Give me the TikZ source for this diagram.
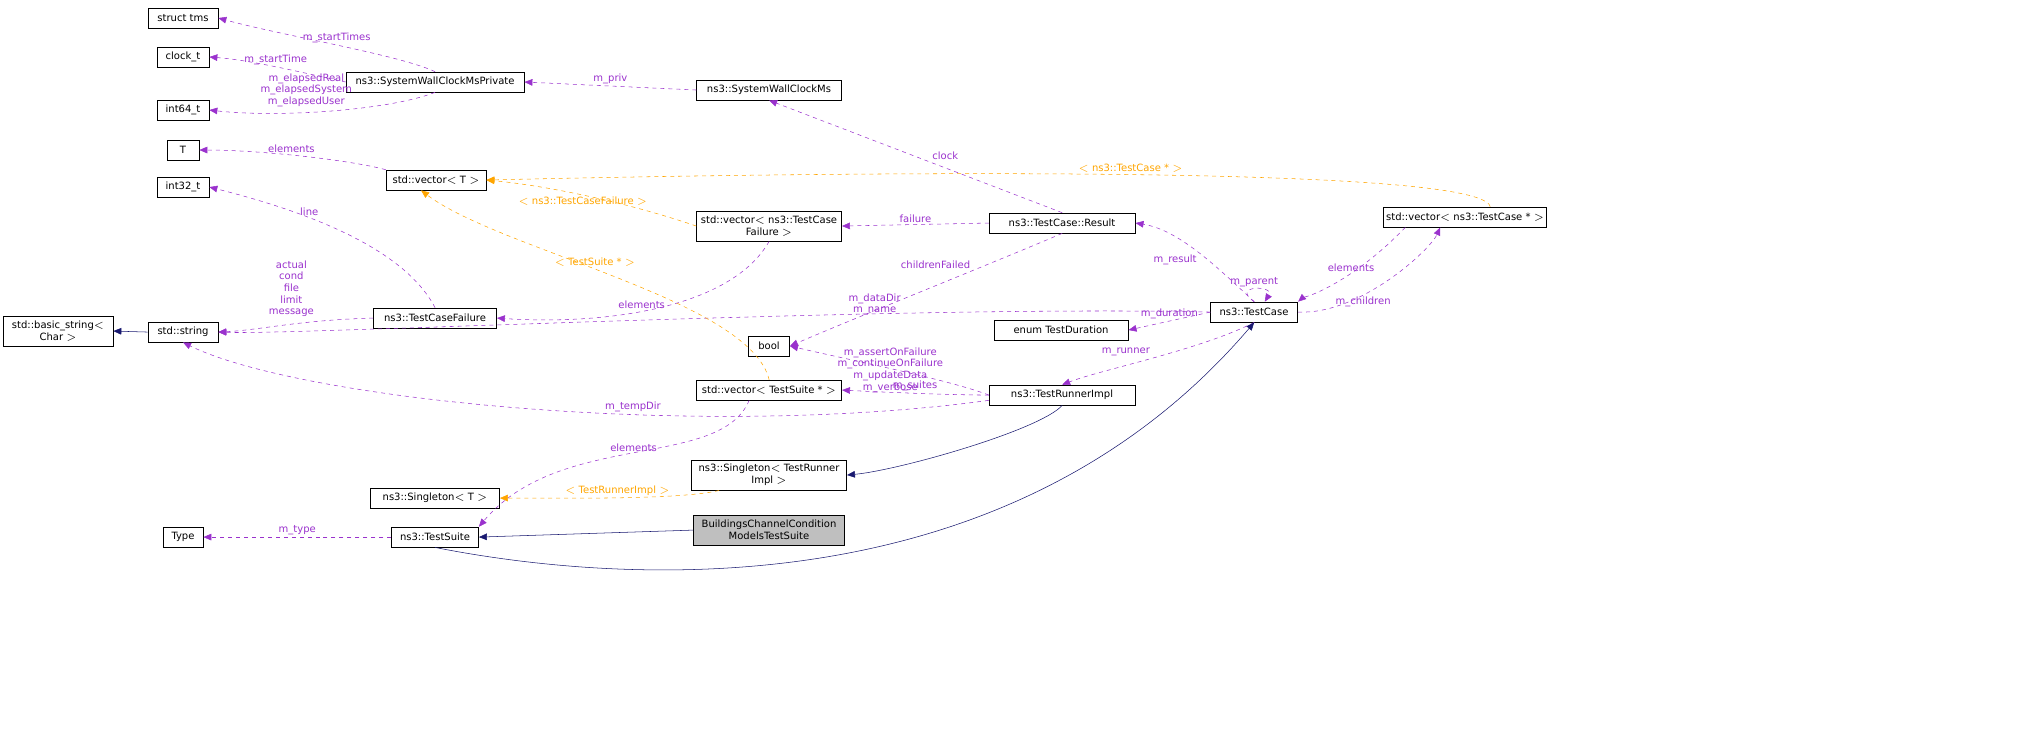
\documentclass[tikz,border=0pt]{standalone}
\usepackage{fontspec}
\setmainfont{DejaVu Sans}
\usetikzlibrary{arrows.meta}
\definecolor{mbr}{HTML}{9A32CD}
\definecolor{tpl}{HTML}{FFA500}
\definecolor{inh}{HTML}{191970}

\begin{document}
\begin{tikzpicture}[x=0.02cm, y=-0.02cm, scale=1.323, transform shape,
	cls/.style={draw, fill=white, font=\fontsize{5.7}{6.6}\selectfont, align=center, inner sep=0pt, minimum height=0.4cm},
	cls2/.style={cls, minimum height=0.6cm},
	lbl/.style={font=\fontsize{5.7}{6.6}\selectfont, align=center, inner sep=1pt},
	member/.style={draw=mbr, dashed, -{Triangle[length=6pt,width=5pt]}, mbr},
	templ/.style={draw=tpl, dashed, -{Triangle[length=6pt,width=5pt]}, tpl},
	base/.style={draw=inh, -{Triangle[length=6pt,width=5pt]}, inh}]
	\useasboundingbox (0,0) rectangle (2036,748);
	% classes
	\node[cls, minimum width=1.4cm] (tms) at (183,18) {struct tms};
	\node[cls, minimum width=1.04cm] (clk) at (183,57) {clock\_t};
	\node[cls, minimum width=1.04cm] (i64) at (183,110) {int64\_t};
	\node[cls, minimum width=3.56cm] (priv) at (435,82) {ns3::SystemWallClockMsPrivate};
	\node[cls, minimum width=2.9cm] (swc) at (769,90) {ns3::SystemWallClockMs};
	\node[cls, minimum width=0.64cm] (T) at (183,150) {T};
	\node[cls, minimum width=2cm] (vecT) at (436,180) {std::vector$<$ T $>$};
	\node[cls, minimum width=1.04cm] (i32) at (183,187) {int32\_t};
	\node[cls2, minimum width=2.9cm] (vecTCF) at (769,226) {std::vector$<$ ns3::TestCase\\Failure $>$};
	\node[cls, minimum width=2.92cm] (res) at (1062,223) {ns3::TestCase::Result};
	\node[cls, minimum width=3.26cm] (vecTC) at (1465,217) {std::vector$<$ ns3::TestCase * $>$};
	\node[cls, minimum width=2.46cm] (tcf) at (435,318) {ns3::TestCaseFailure};
	\node[cls2, minimum width=2.2cm] (bstr) at (58,331) {std::basic\_string$<$\\Char $>$};
	\node[cls, minimum width=1.4cm] (str) at (183,332) {std::string};
	\node[cls, minimum width=1.74cm] (tc) at (1254,312) {ns3::TestCase};
	\node[cls, minimum width=2.68cm] (dur) at (1061,330) {enum TestDuration};
	\node[cls, minimum width=0.82cm] (bool) at (769,346) {bool};
	\node[cls, minimum width=2.9cm] (vecTS) at (769,390) {std::vector$<$ TestSuite * $>$};
	\node[cls, minimum width=2.92cm] (tri) at (1062,395) {ns3::TestRunnerImpl};
	\node[cls2, minimum width=3.1cm] (sgl) at (769,475) {ns3::Singleton$<$ TestRunner\\Impl $>$};
	\node[cls, minimum width=2.58cm] (sglT) at (435,498) {ns3::Singleton$<$ T $>$};
	\node[cls, minimum width=0.8cm] (type) at (183,537) {Type};
	\node[cls, minimum width=1.74cm] (ts) at (435,537) {ns3::TestSuite};
	\node[cls2, minimum width=3.02cm, fill={rgb,255:red,191;green,191;blue,191}] (bcc) at (769,530) {BuildingsChannelCondition\\ModelsTestSuite};
	% members
	\draw[member] (priv.north) .. controls (400,55) and (280,35) .. (tms.east) node[lbl, pos=0.5, above] {m\_startTimes};
	\draw[member] (priv.west) .. controls (300,72) and (250,60) .. (clk.east) node[lbl, pos=0.5, above] {m\_startTime};
	\draw[member] (priv.south) .. controls (390,110) and (280,118) .. (i64.east) node[lbl, pos=0.6, above, yshift=2pt] {m\_elapsedReal\\m\_elapsedSystem\\m\_elapsedUser};
	\draw[member] (swc.west) -- (priv.east) node[lbl, midway, above] {m\_priv};
	\draw[member] (vecT.north west) .. controls (350,160) and (260,150) .. (T.east) node[lbl, pos=0.55, above] {elements};
	\draw[member] (tcf.north) .. controls (400,240) and (280,205) .. (i32.east) node[lbl, pos=0.6, above] {line};
	\draw[member] (tcf.west) .. controls (300,320) and (260,330) .. (str.east) node[lbl, pos=0.45, above, yshift=3pt] {actual\\cond\\file\\limit\\message};
	\draw[member] (vecTCF.south) .. controls (730,310) and (600,325) .. (tcf.east) node[lbl, pos=0.55, above] {elements};
	\draw[member] (res.west) -- (vecTCF.east) node[lbl, midway, above] {failure};
	\draw[member] (res.north) -- (swc.south) node[lbl, pos=0.45, above right] {clock};
	\draw[member] (res.south) .. controls (1000,260) and (850,320) .. (bool.east) node[lbl, pos=0.35, above left] {childrenFailed};
	\draw[member] (tc.north) .. controls (1220,270) and (1180,230) .. (res.east) node[lbl, pos=0.5, below left] {m\_result};
	\draw[member] (tc.north) .. controls (1230,285) and (1275,285) .. ([xshift=6pt]tc.north) node[lbl, pos=0.5, above] {m\_parent};
	\draw[member] (tc.west) .. controls (900,305) and (300,335) .. (str.east) node[lbl, pos=0.3, above, yshift=-2pt] {m\_dataDir\\m\_name};
	\draw[member] (tc.west) -- (dur.east) node[lbl, midway, above] {m\_duration};
	\draw[member] (tc.east) .. controls (1360,315) and (1430,250) .. ([xshift=-0.5cm]vecTC.south) node[lbl, pos=0.35, below] {m\_children};
	\draw[member] ([xshift=-1.2cm]vecTC.south) .. controls (1350,285) and (1300,300) .. (tc.north east) node[lbl, pos=0.35, above] {elements};
	\draw[member] (tc.south) .. controls (1200,350) and (1100,370) .. (tri.north) node[lbl, pos=0.5, above left] {m\_runner};
	\draw[member] (tri.west) .. controls (950,380) and (850,360) .. (bool.east) node[lbl, pos=0.5, xshift=-4pt] {m\_assertOnFailure\\m\_continueOnFailure\\m\_updateData\\m\_verbose};
	\draw[member] (tri.west) .. controls (950,395) and (880,392) .. (vecTS.east) node[lbl, pos=0.5, above] {m\_suites};
	\draw[member] ([yshift=-3pt]tri.west) .. controls (700,440) and (300,400) .. (str.south) node[lbl, pos=0.38, above] {m\_tempDir};
	\draw[member] ([xshift=-0.4cm]vecTS.south) .. controls (720,470) and (560,430) .. (ts.north east) node[lbl, pos=0.5, above] {elements};
	\draw[member] (ts.west) -- (type.east) node[lbl, midway, above] {m\_type};
	% templates
	\draw[templ] ([xshift=0.5cm]vecTC.north) .. controls (1480,160) and (700,175) .. (vecT.east) node[lbl, pos=0.45, above] {$<$ ns3::TestCase * $>$};
	\draw[templ] (vecTCF.west) .. controls (620,200) and (540,185) .. (vecT.east) node[lbl, pos=0.5, below] {$<$ ns3::TestCaseFailure $>$};
	\draw[templ] (vecTS.north) .. controls (750,300) and (500,250) .. ([xshift=-0.3cm]vecT.south) node[lbl, pos=0.55, above] {$<$ TestSuite * $>$};
	\draw[templ] ([xshift=-1cm]sgl.south) .. controls (680,500) and (560,498) .. (sglT.east) node[lbl, pos=0.5, above] {$<$ TestRunnerImpl $>$};
	% inheritance
	\draw[base] (str.west) -- (bstr.east);
	\draw[base] (tri.south) .. controls (1040,430) and (900,470) .. (sgl.east);
	\draw[base] (bcc.west) -- (ts.east);
	\draw[base] (ts.south) .. controls (600,580) and (1000,620) .. (tc.south);
\end{tikzpicture}
\end{document}
